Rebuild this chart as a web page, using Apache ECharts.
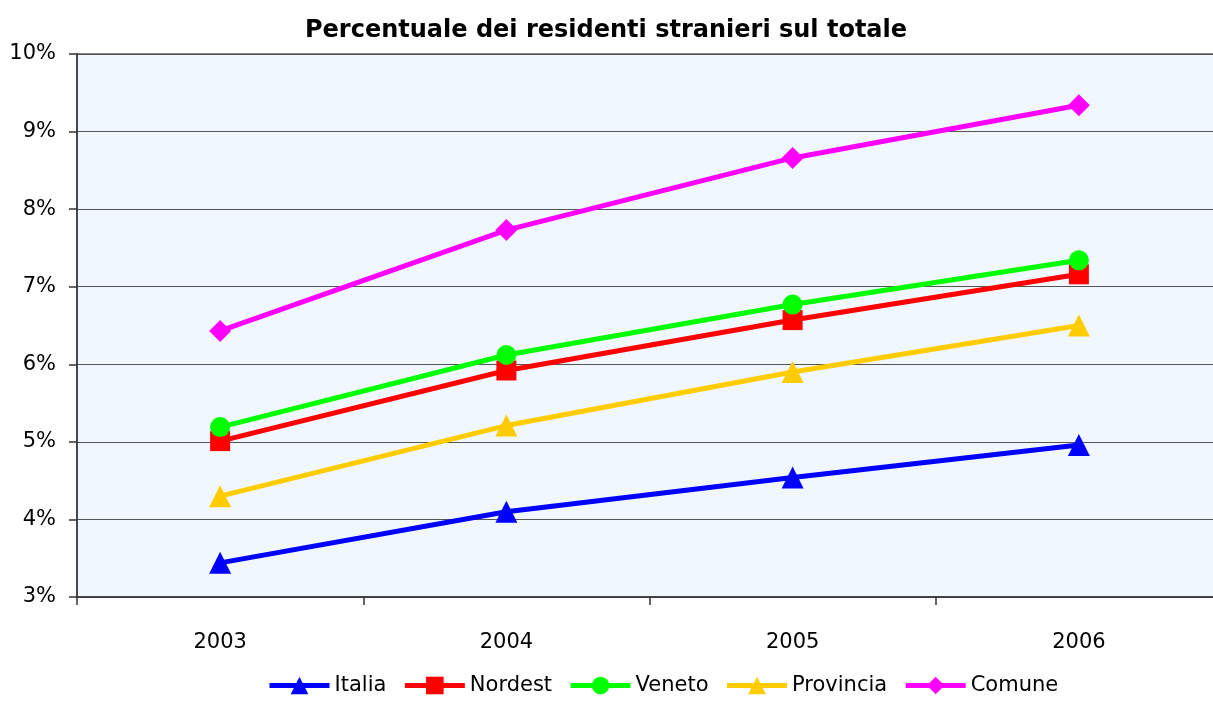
<!DOCTYPE html>
<html><head><meta charset="utf-8">
<script src="https://cdn.jsdelivr.net/npm/echarts@6/dist/echarts.min.js"></script>
<style>html,body{margin:0;padding:0;background:#fff;overflow:hidden;width:1213px;height:702px}#c{width:1222px;height:702px}</style>
</head><body><div id="c"></div>
<script>
var years = ['2003', '2004', '2005', '2006'];
var italia = [3.44, 4.10, 4.54, 4.96];
var nordest = [5.01, 5.92, 6.57, 7.16];
var veneto = [5.19, 6.12, 6.77, 7.34];
var provincia = [4.30, 5.21, 5.90, 6.50];
var comune = [6.43, 7.73, 8.66, 9.34];
var names = ['Italia', 'Nordest', 'Veneto', 'Provincia', 'Comune'];
var colors = ['#0000FF', '#FF0000', '#00FF00', '#FFCC00', '#FF00FF'];
var symbols = ['triangle', 'rect', 'circle', 'triangle', 'diamond'];
var values = [italia, nordest, veneto, provincia, comune];
var FONT = '"DejaVu Sans", sans-serif';
var chart = echarts.init(document.getElementById('c'));
chart.setOption({
  animation: false,
  color: colors,
  title: {
    text: 'Percentuale dei residenti stranieri sul totale',
    left: 300, top: 14,
    textStyle: { fontFamily: FONT, fontSize: 24, fontWeight: 'bold', color: '#000' }
  },
  grid: {
    left: 77, top: 54, right: 0, height: 543,
    show: true, backgroundColor: '#F0F7FF', borderColor: '#888', borderWidth: 2
  },
  legend: {
    bottom: 1, left: 262,
    itemWidth: 60, itemHeight: 22, itemGap: 16,
    lineStyle: { width: 5 },
    textStyle: { fontFamily: FONT, fontSize: 21, color: '#000' },
    data: names
  },
  xAxis: {
    type: 'category', data: years, boundaryGap: true,
    axisLine: { lineStyle: { color: '#333', width: 1.5 } },
    axisTick: { show: true, length: 8, inside: false, lineStyle: { color: '#333', width: 1.5 } },
    axisLabel: { fontFamily: FONT, fontSize: 21, color: '#000', margin: 35 },
    splitLine: { show: false }
  },
  yAxis: {
    type: 'value', min: 3, max: 10, interval: 1,
    axisLine: { show: true, lineStyle: { color: '#333', width: 1.5 } },
    axisTick: { show: true, length: 8, lineStyle: { color: '#333', width: 1.5 } },
    axisLabel: { formatter: '{value}%', fontFamily: FONT, fontSize: 21, color: '#000', margin: 21 },
    splitLine: { show: true, lineStyle: { color: '#555', width: 1.2 } }
  },
  series: names.map(function (n, i) {
    return {
      name: n, type: 'line', data: values[i],
      symbol: symbols[i],
      symbolSize: symbols[i] === 'triangle' ? 22 : (symbols[i] === 'diamond' ? 22 : 20),
      lineStyle: { width: 5, color: colors[i] },
      itemStyle: { color: colors[i] },
      z: 2 + i
    };
  })
});
</script></body></html>
